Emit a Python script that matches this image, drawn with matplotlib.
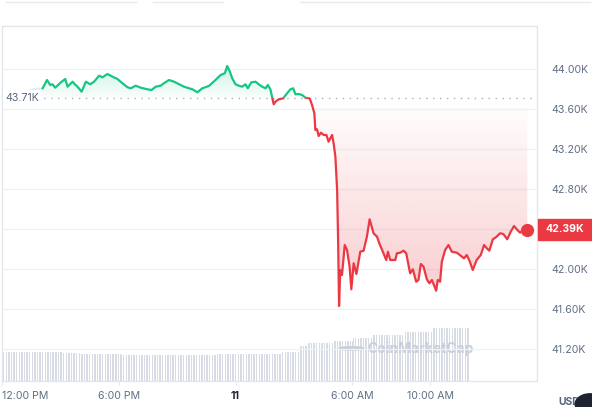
import numpy as np
import matplotlib
matplotlib.use('Agg')
from matplotlib import pyplot as plt
from matplotlib.patches import Rectangle, Circle
from matplotlib.lines import Line2D

plt.rcParams['font.family'] = ['Inter', 'DejaVu Sans']

# hours after 12:00 PM (day 10) and BTC price in USD
hours = [0.05, 0.7, 1.2, 1.65,
         2.09, 2.31, 2.48, 2.60, 2.73, 3.03, 3.25, 3.37, 3.63, 3.74, 3.88, 4.09,
         4.31, 4.53, 4.73, 4.99, 5.16, 5.42, 5.68, 5.93, 6.19, 6.45, 6.62, 6.87,
         7.13, 7.47, 7.68, 7.90, 8.15, 8.32, 8.58, 8.84, 9.35, 9.78, 10.04, 10.29,
         10.63, 10.97, 11.23, 11.45, 11.57, 11.71, 11.83, 12.00, 12.17, 12.34,
         12.51, 12.63, 12.81, 13.03, 13.19, 13.37, 13.54, 13.66, 13.79, 13.96,
         14.05, 14.22, 14.45, 14.65, 14.82, 14.96, 15.08, 15.25, 15.42, 15.59,
         15.81, 15.93, 16.05, 16.10, 16.19, 16.27, 16.39, 16.53, 16.67, 16.78,
         16.96, 17.04, 17.13, 17.22, 17.27, 17.32, 17.38, 17.47, 17.61, 17.73,
         17.86, 17.95, 18.07, 18.21, 18.41, 18.58, 18.75, 18.89, 19.09, 19.27,
         19.40, 19.57, 19.74, 19.83, 19.95, 20.21, 20.29, 20.46, 20.63, 20.77,
         20.89, 20.97, 21.11, 21.28, 21.40, 21.52, 21.66, 21.83, 21.96, 22.09,
         22.31, 22.39, 22.51, 22.60, 22.77, 22.94, 23.11, 23.37, 23.63, 23.74,
         23.88, 24.02, 24.19, 24.39, 24.60, 24.77, 24.91, 25.04, 25.22, 25.38,
         25.59, 25.76, 25.96, 26.14, 26.31, 26.45, 26.62, 26.78, 26.99]
prices = [43740, 43780, 43770, 43800,
          43807, 43890, 43840, 43847, 43813, 43867, 43900, 43823, 43873, 43847, 43823, 43773,
          43873, 43847, 43873, 43933, 43917, 43950, 43923, 43900, 43857, 43817, 43807, 43833,
          43813, 43797, 43790, 43823, 43833, 43857, 43890, 43873, 43823, 43797, 43767, 43807,
          43830, 43890, 43940, 43957, 44030, 43973, 43907, 43847, 43833, 43823,
          43847, 43807, 43867, 43873, 43847, 43823, 43807, 43840, 43797, 43647,
          43673, 43697, 43707, 43757, 43797, 43807, 43747, 43750, 43740, 43713,
          43707, 43640, 43557, 43390, 43397, 43330, 43363, 43340, 43340, 43273,
          43340, 43257, 43123, 42790, 42290, 41630, 41990, 41940, 42240, 42190,
          42023, 41797, 42057, 41950, 42173, 42183, 42323, 42497, 42357, 42323,
          42250, 42173, 42090, 42173, 42090, 42090, 42157, 42163, 42183, 42157,
          42040, 41957, 41997, 41873, 41890, 42050, 42023, 41897, 41857, 41890,
          41783, 41890, 41873, 42073, 42190, 42240, 42173, 42163, 42123, 42107,
          42140, 42083, 41990, 42090, 42140, 42240, 42207, 42183, 42297, 42317,
          42357, 42350, 42297, 42373, 42430, 42397, 42363, 42390, 42390]
n_fade = 4  # first points drawn faded
open_price = 43710
last_price = 42390

# volume (billions USD) as 5-minute bars, read as plateaus
vol_levels = [14.5, 14.0, 13.5, 13.0, 13.5, 14.5, 17.5, 19.0, 20.0, 21.5, 23.0, 24.5, 26.5]
vol_counts = [37, 11, 25, 59, 40, 11, 5, 16, 12, 12, 19, 18, 23]

price_ticks = [41200, 41600, 42000, 42400, 42800, 43200, 43600, 44000]
price_labels = ['41.20K', '41.60K', '42.00K', '', '42.80K', '43.20K', '43.60K', '44.00K']
time_ticks = [0, 6, 12, 18, 22]
time_labels = ['12:00 PM', '6:00 PM', '11', '6:00 AM', '10:00 AM']

green = '#16c784'
red = '#ea3943'
txt = '#616e85'
grid = '#eff2f5'

W, H = 592, 407
fig = plt.figure(figsize=(W / 100, H / 100), dpi=100)
ax = fig.add_axes([2 / W, (H - 381) / H, 535 / W, 355 / H])
ax2 = ax.twinx()
ax.set_zorder(ax2.get_zorder() + 1)
ax.patch.set_visible(False)

xmin, xmax = 0.05, 27.49
ymin, ymax = 40880, 44430
ax.set_xlim(xmin, xmax)
ax.set_ylim(ymin, ymax)

# volume bars
vol = np.repeat(vol_levels, vol_counts)
vx = 0.05 + np.arange(len(vol)) / 12.0
ax2.bar(vx, vol, width=0.045, color='#d6dbe4', align='edge', linewidth=0)
ax2.set_ylim(0, 177.5)
ax2.set_xlim(xmin, xmax)
ax2.axis('off')

# watermark
ax2.add_patch(Circle((17.95, 16.3), 0.6, transform=ax2.transData, fill=False,
                     ec='#c9cfda', lw=1.6, zorder=3))
ax2.text(18.75, 16.3, 'CoinMarketCap', color='#c9cfda', fontsize=10,
         fontweight='bold', va='center', ha='left', zorder=3)

# grid
for p in price_ticks:
    ax.axhline(p, color=grid, lw=0.9, zorder=0)

hx = np.array(hours)
py = np.array(prices, dtype=float)

# gradient fills
def grad_fill(x, y, base, cmap_color, y0, y1, a0, a1):
    poly = ax.fill_between(x, y, base, color='none', lw=0)
    path = poly.get_paths()[0]
    g = np.linspace(a1, a0, 200).reshape(-1, 1)
    rgba = np.zeros((200, 1, 4))
    rgba[..., :3] = matplotlib.colors.to_rgb(cmap_color)
    rgba[..., 3] = g
    im = ax.imshow(rgba, extent=[x[0], x[-1], y0, y1], aspect='auto',
                   origin='upper', zorder=1)
    im.set_clip_path(path, ax.transData)

up = np.maximum(py, open_price)
grad_fill(hx[n_fade:], up[n_fade:], open_price, green, open_price, 44050, 0.02, 0.22)
dn = np.minimum(py, open_price)
grad_fill(hx[n_fade:], dn[n_fade:], open_price, red, 41600, open_price, 0.27, 0.0)
# faded leading fill
grad_fill(hx[:n_fade + 1], up[:n_fade + 1], open_price, green, open_price, 44050, 0.0, 0.06)

# baseline
ax.axhline(open_price, color='#a6b0c3', lw=1.0, ls=(0, (1, 4)), zorder=2)

# price line, split by baseline
lg, = ax.plot(hx[n_fade:], py[n_fade:], color=green, lw=1.6, zorder=3,
              solid_joinstyle='round')
lr, = ax.plot(hx[n_fade:], py[n_fade:], color=red, lw=1.6, zorder=3,
              solid_joinstyle='round')
lg.set_clip_path(Rectangle((xmin, open_price), xmax - xmin, ymax - open_price,
                           transform=ax.transData))
lr.set_clip_path(Rectangle((xmin, ymin), xmax - xmin, open_price - ymin,
                           transform=ax.transData))
ax.plot(hx[:n_fade + 1], py[:n_fade + 1], color=green, lw=1.4, alpha=0.18, zorder=3)
ax.plot(hx[-1], py[-1], 'o', color=red, ms=8.5, zorder=4, clip_on=False)

# axes styling
for s in ax.spines.values():
    s.set_color('#e3e6eb')
    s.set_linewidth(1)
ax.yaxis.tick_right()
ax.set_yticks(price_ticks)
ax.set_yticklabels(price_labels)
ax.tick_params(axis='y', length=0, pad=10, labelsize=7.6, labelcolor=txt)
ax.set_xticks(time_ticks)
ax.set_xticklabels(time_labels)
ax.tick_params(axis='x', length=3, color='#e3e6eb', pad=4, labelsize=7.6, labelcolor=txt)
xl = ax.get_xticklabels()
xl[0].set_ha('left')
xl[2].set_fontweight('bold')
xl[2].set_color('#222531')

# labels
ax.text(0.006, open_price, '43.71K', transform=ax.get_yaxis_transform(),
        fontsize=7.6, color='#58667e', va='center', ha='left', zorder=5,
        bbox=dict(boxstyle='square,pad=0.25', fc='white', ec='none'))
fig.patches.append(Rectangle((538 / W, (H - 240) / H), 54 / W, 21 / H,
                             transform=fig.transFigure, color=red, zorder=5))
fig.text(545 / W, (H - 229.5) / H, '42.39K', color='white', fontsize=7.6,
         fontweight='bold', va='center', ha='left', zorder=6)

# UI remnants
for a, b in [(6, 136), (153, 223), (300, 590)]:
    fig.add_artist(Line2D([a / W, b / W], [(H - 1.5) / H] * 2, color='#e8eaed', lw=1))
fig.text(558 / W, (H - 402) / H, 'USD', color='#58667e', fontsize=7.5,
         fontweight='bold', va='center', ha='left')
fig.patches.append(Circle((590 / W, (H - 404) / H), 0.025, transform=fig.transFigure,
                          color='#1e2330', zorder=6))

fig.savefig('out.png', dpi=100)
